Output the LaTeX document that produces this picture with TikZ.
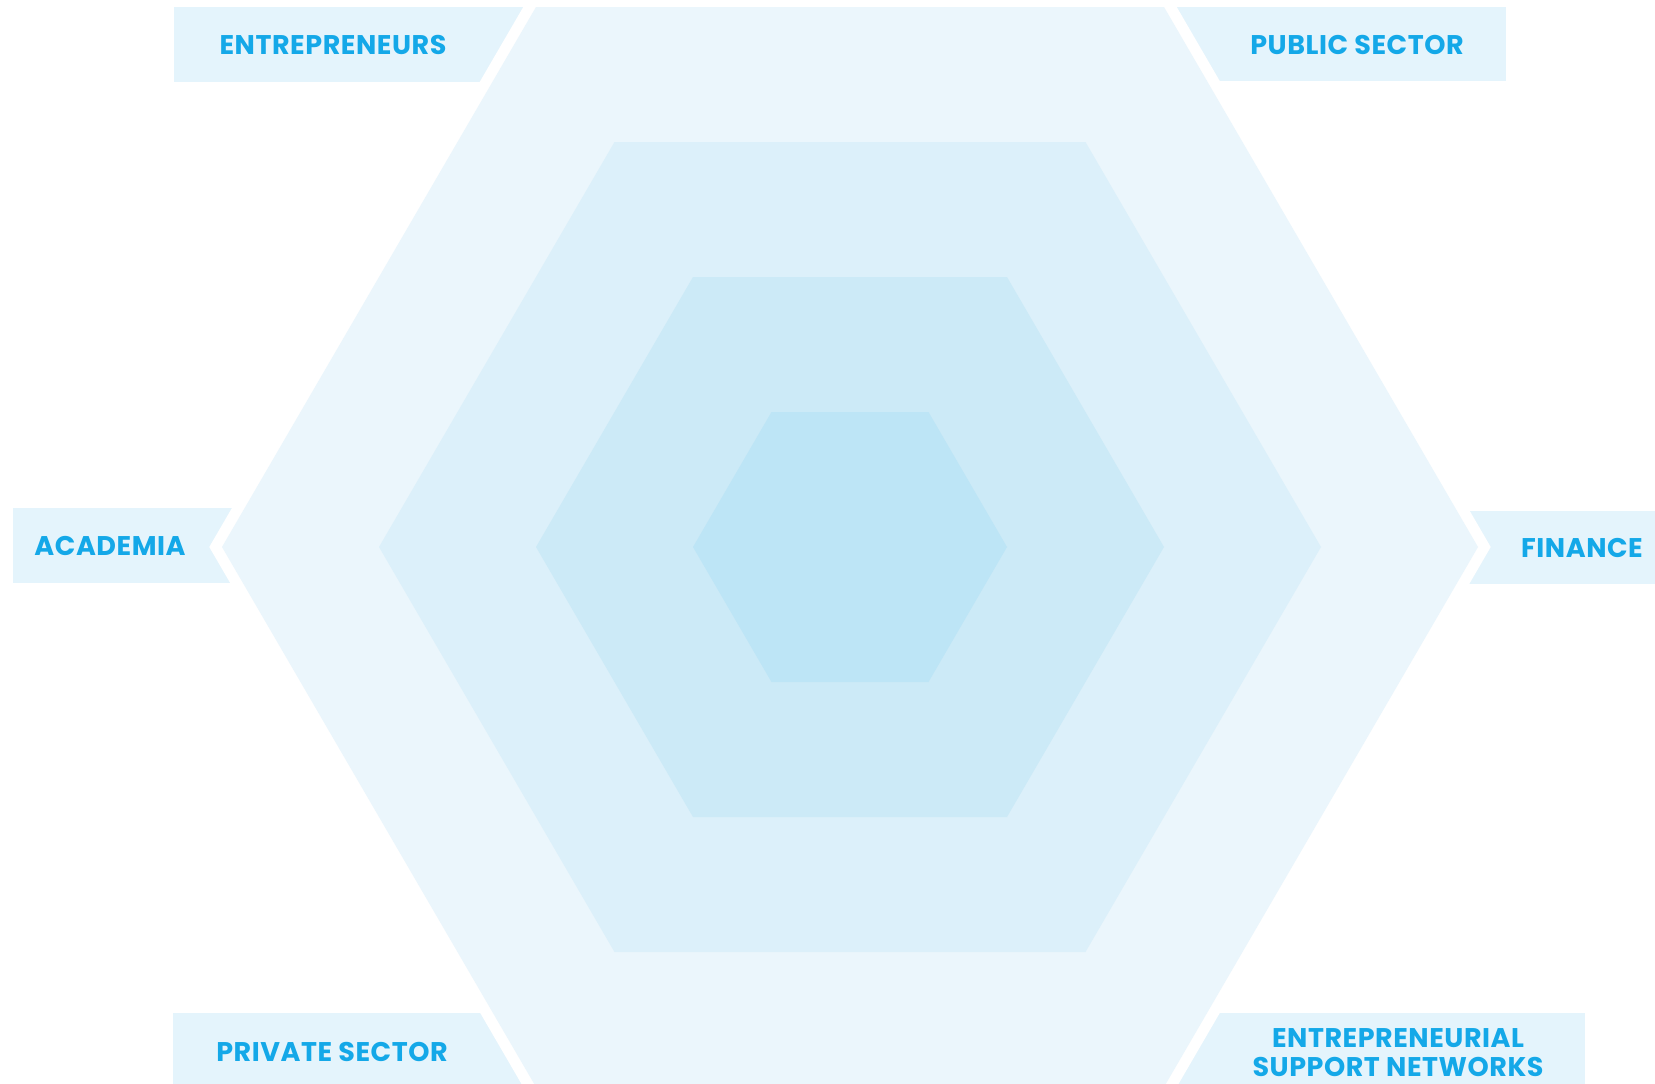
\documentclass[tikz,border=0pt]{standalone}
\usepackage{fontspec}
\newfontfamily\lblfont{Poppins}[LetterSpace=2]
\definecolor{hexA}{HTML}{EBF6FC}
\definecolor{hexB}{HTML}{DCF0FA}
\definecolor{hexC}{HTML}{CCEAF7}
\definecolor{hexD}{HTML}{BDE5F6}
\definecolor{lblbg}{HTML}{E4F4FC}
\definecolor{lbltxt}{HTML}{14A8E8}
\tikzset{
  lbl/.style={font=\lblfont\bfseries\fontsize{27}{29}\selectfont, text=lbltxt, align=center, inner sep=0pt},
  hexpath/.style={line join=miter}
}
\newcommand{\hexat}[2]{(850-#1,547) -- (850-#1/2,547-#2) -- (850+#1/2,547-#2) -- (850+#1,547) -- (850+#1/2,547+#2) -- (850-#1/2,547+#2) -- cycle}
\begin{document}
\begin{tikzpicture}[x=1pt,y=-1pt]
\useasboundingbox (0,0) rectangle (1655,1084);
\fill[white] (0,0) rectangle (1655,1084);
% label backgrounds
\fill[lblbg] (174,7) rectangle (620,82);
\fill[lblbg] (1080,7) rectangle (1506,81);
\fill[lblbg] (13,508) rectangle (320,583);
\fill[lblbg] (1380,511) rectangle (1655,584);
\fill[lblbg] (173,1013) rectangle (620,1084);
\fill[lblbg] (1080,1013) rectangle (1585,1084);
% white gap around the hexagon
\draw[white, line width=22pt, hexpath] \hexat{628}{540};
% hexagons
\fill[hexA] \hexat{628}{540};
\fill[hexB] \hexat{471}{405};
\fill[hexC] \hexat{314}{270};
\fill[hexD] \hexat{157}{135};
% labels
\node[lbl] (entre) at (333,45) {ENTREPRENEURS};
\node[lbl] (public) at (1357,45) {PUBLIC SECTOR};
\node[lbl] (acad) at (110,546) {ACADEMIA};
\node[lbl] (fin) at (1582,548) {FINANCE};
\node[lbl] (priv) at (332,1052) {PRIVATE SECTOR};
\node[lbl] (esn) at (1398,1053) {ENTREPRENEURIAL\\SUPPORT NETWORKS};
\end{tikzpicture}
\end{document}
